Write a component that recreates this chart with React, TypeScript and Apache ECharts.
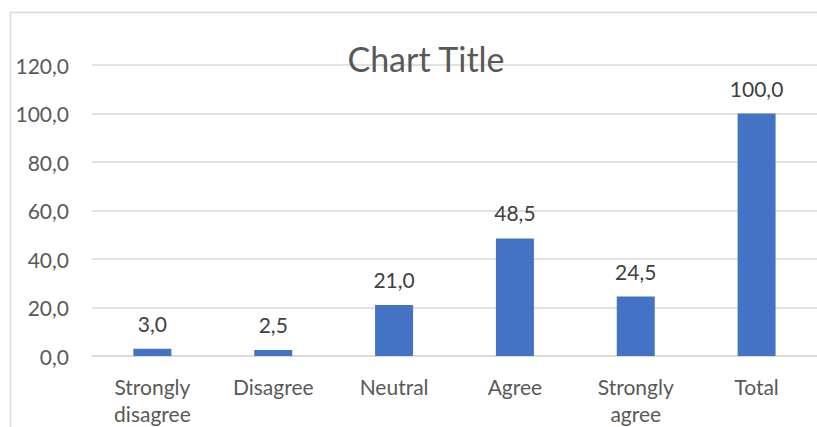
import React, { useEffect, useRef } from "react";
import * as echarts from "echarts";

const categories = ["Strongly\ndisagree", "Disagree", "Neutral", "Agree", "Strongly\nagree", "Total"];
const values = [3.0, 2.5, 21.0, 48.5, 24.5, 100.0];
const titleText = "Chart Title";

const FONT = "Lato, 'Open Sans', sans-serif";
const fmt = (v: number) => v.toFixed(1).replace(".", ",");

export default function App() {
  const ref = useRef<HTMLDivElement>(null);
  useEffect(() => {
    if (!ref.current) return;
    const chart = echarts.init(ref.current, undefined, { renderer: "svg" });
    chart.setOption({
      animation: false,
      backgroundColor: "#ffffff",
      title: {
        text: titleText,
        left: 421,
        textAlign: "center",
        top: 36,
        textStyle: { fontFamily: FONT, fontSize: 34, fontWeight: "normal", color: "#595959" },
      },
      graphic: [
        {
          type: "line",
          shape: { x1: 10.5, y1: 12, x2: 10.5, y2: 427 },
          style: { stroke: "#d9d9d9", lineWidth: 1.5 },
          silent: true,
        },
        {
          type: "line",
          shape: { x1: 10, y1: 12.5, x2: 817, y2: 12.5 },
          style: { stroke: "#d9d9d9", lineWidth: 1.5 },
          silent: true,
        },
      ],
      grid: { left: 92, right: 0, top: 65, bottom: 66, containLabel: false },
      xAxis: {
        type: "category",
        data: categories,
        axisLine: { show: true, lineStyle: { color: "#d9d9d9", width: 1.5 } },
        axisTick: { show: false },
        axisLabel: {
          fontFamily: FONT,
          fontSize: 21,
          color: "#595959",
          margin: 17,
          lineHeight: 27,
          interval: 0,
          verticalAlign: "top",
        },
      },
      yAxis: {
        type: "value",
        min: 0,
        max: 120,
        interval: 20,
        axisLine: { show: false },
        axisTick: { show: false },
        splitLine: { lineStyle: { color: "#d9d9d9", width: 1.5 } },
        axisLabel: {
          fontFamily: FONT,
          fontSize: 21,
          color: "#595959",
          margin: 23,
          formatter: (v: number) => fmt(v),
        },
      },
      series: [
        {
          type: "bar",
          data: values,
          barWidth: 38,
          itemStyle: { color: "#4472c4" },
          label: {
            show: true,
            position: "top",
            distance: 15,
            fontFamily: FONT,
            fontSize: 21,
            color: "#404040",
            formatter: (p: any) => fmt(p.value),
          },
        },
      ],
    });
    return () => chart.dispose();
  }, []);
  return <div ref={ref} style={{ position: "fixed", left: 0, top: 0, width: 817, height: 427 }} />;
}
